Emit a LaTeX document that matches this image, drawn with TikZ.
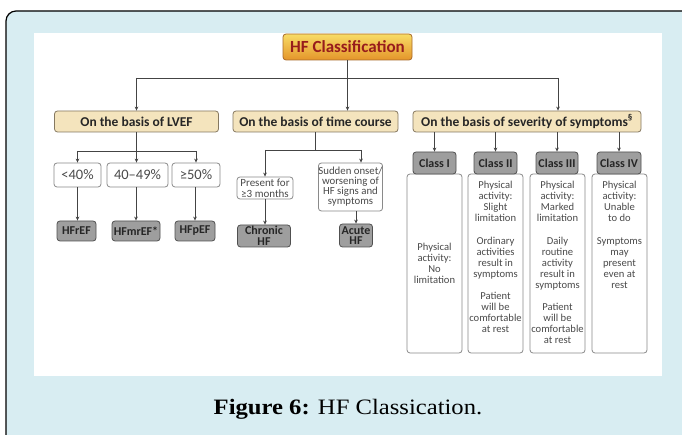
\documentclass[tikz,border=0pt]{standalone}
\usepackage{fontspec}
\setmainfont{Carlito}
\newfontfamily\capfont{Liberation Serif}[FakeStretch=1.12]
\usetikzlibrary{arrows.meta}
\definecolor{framebg}{HTML}{D8EDF2}
\definecolor{hftop}{HTML}{F8DC66}
\definecolor{hfbot}{HTML}{E4952A}
\definecolor{hfborder}{HTML}{A86A2A}
\definecolor{hftext}{HTML}{971C1C}
\definecolor{beige}{HTML}{F4E4BD}
\definecolor{beigeborder}{HTML}{857860}
\definecolor{greyfill}{HTML}{9E9E9E}
\definecolor{greyborder}{HTML}{505050}
\definecolor{wborder}{HTML}{8A8A8A}
\definecolor{lncol}{HTML}{444444}
\definecolor{txtgrey}{HTML}{4A4A4A}
\begin{document}
\begin{tikzpicture}[x=1pt,y=-1pt,
  hfbox/.style={draw=hfborder, line width=0.8pt, top color=hftop, bottom color=hfbot, rounded corners=3pt,
    minimum width=129pt, minimum height=26pt, inner sep=0pt, text=hftext,
    font=\fontsize{17}{17}\selectfont\bfseries},
  lvtwo/.style={draw=beigeborder, line width=0.8pt, fill=beige, rounded corners=3pt,
    minimum height=21pt, inner sep=0pt, text=black!85,
    font=\fontsize{13.5}{13.5}\selectfont\bfseries},
  wbox/.style={draw=wborder, line width=0.8pt, fill=white, rounded corners=3pt, inner sep=0pt,
    text=txtgrey},
  gbox/.style={draw=greyborder, line width=0.8pt, fill=greyfill, rounded corners=3pt, inner sep=0pt,
    text=black!85, font=\fontsize{12}{10.5}\selectfont\bfseries, align=center},
  desctext/.style={inner sep=0pt, text=txtgrey, align=center, font=\fontsize{10.6}{11}\selectfont},
  ln/.style={draw=lncol, line width=0.9pt},
  arr/.style={ln, -{Stealth[length=4pt,width=3.6pt]}}
]
\useasboundingbox (0,0) rectangle (682,435);
\begin{scope}
  \clip (0,0) rectangle (682,435);
  \draw[fill=framebg, line width=1.2pt, rounded corners=10pt] (6,11) rectangle (720,470);
\end{scope}
\fill[white] (34,33) rectangle (662,376);

% top
\node[hfbox] (hf) at (347.5,47) {HF Classification};
\node[lvtwo, minimum width=164pt] (lvef) at (136.5,121.5) {On the basis of LVEF};
\node[lvtwo, minimum width=165pt] (time) at (315.5,121.5) {On the basis of time course};
\node[lvtwo, minimum width=228pt] (sev) at (527,121.5) {On the basis of severity of symptoms\textsuperscript{\fontsize{9}{9}\selectfont §}};

\coordinate (busL) at (136.5,78);
\coordinate (busR) at (558,78);
\draw[ln] (busL) -- (busR);
\draw[arr] (hf.south) -- (hf.south |- time.north);
\draw[arr] (busL) -- (lvef.north);
\draw[arr] (busR) -- (busR |- sev.north);

% LVEF branch
\node[wbox, minimum width=47pt, minimum height=24pt, font=\fontsize{14.5}{14.5}\selectfont] (p1) at (77.5,175) {<40\%};
\node[wbox, minimum width=61pt, minimum height=24pt, font=\fontsize{14.5}{14.5}\selectfont] (p2) at (137.5,175) {40–49\%};
\node[wbox, minimum width=48pt, minimum height=24pt, font=\fontsize{14.5}{14.5}\selectfont] (p3) at (196,175) {≥50\%};
\node[gbox, minimum width=39pt, minimum height=20pt] (e1) at (76.5,231) {HFrEF};
\node[gbox, minimum width=48pt, minimum height=20pt] (e2) at (136,231) {HFmrEF*};
\node[gbox, minimum width=40pt, minimum height=20pt] (e3) at (195,231) {HFpEF};

\coordinate (lvJ) at (136.5,151);
\draw[ln] (lvef.south) -- (lvJ);
\draw[ln] (p1.north |- lvJ) -- (p3.north |- lvJ);
\draw[arr] (p1.north |- lvJ) -- (p1.north);
\draw[arr] (lvJ) -- (lvJ |- p2.north);
\draw[arr] (p3.north |- lvJ) -- (p3.north);
\draw[arr] (p1.south) -- (p1.south |- e1.north);
\draw[arr] (e2.north |- p2.south) -- (e2.north);
\draw[arr] (e3.north |- p3.south) -- (e3.north);

% time course branch
\node[wbox, minimum width=56pt, minimum height=22pt, align=center, font=\fontsize{11}{11}\selectfont] (pr) at (265,188) {Present for\\≥3 months};
\node[wbox, minimum width=63pt, minimum height=48pt, align=center, font=\fontsize{10.8}{10}\selectfont] (su) at (350.5,187) {Sudden onset/\\worsening of\\HF signs and\\symptoms};
\node[gbox, minimum width=53pt, minimum height=22pt] (ch) at (264,236) {Chronic\\HF};
\node[gbox, minimum width=33pt, minimum height=23pt] (ac) at (356,235.5) {Acute\\HF};

\coordinate (tJ) at (315.5,150);
\coordinate (tL) at (265,150);
\coordinate (tR) at (361,150);
\draw[ln] (time.south) -- (tJ);
\draw[ln] (tL) -- (tR);
\draw[arr] (tL) -- (tL |- pr.north);
\draw[arr] (tR) -- (tR |- su.north);
\draw[arr] (pr.south) -- (pr.south |- ch.north);
\draw[arr] (ac.north |- su.south) -- (ac.north);

% severity branch
\node[wbox, minimum width=55pt, minimum height=179pt] (d1) at (434.5,263.5) {};
\node[wbox, minimum width=55pt, minimum height=179pt] (d2) at (495.5,263.5) {};
\node[wbox, minimum width=55pt, minimum height=179pt] (d3) at (557.5,263.5) {};
\node[wbox, minimum width=55pt, minimum height=179pt] (d4) at (619.5,263.5) {};
\node[gbox, minimum width=43pt, minimum height=22pt] (c1) at (434.5,163) {Class I};
\node[gbox, minimum width=43pt, minimum height=22pt] (c2) at (495.5,163) {Class II};
\node[gbox, minimum width=42pt, minimum height=22pt] (c3) at (557,163) {Class III};
\node[gbox, minimum width=44pt, minimum height=22pt] (c4) at (619,163) {Class IV};
\foreach \c in {c1,c2,c3,c4} \draw[arr] (\c.north |- sev.south) -- (\c.north);

\node[desctext] (d1t) at (d1.center) {Physical\\activity:\\No\\limitation};
\node[desctext, anchor=north] (d2t) at (495.5,181) {Physical\\activity:\\Slight\\limitation\\[12pt]Ordinary\\activities\\result in\\symptoms\\[11pt]Patient\\will be\\comfortable\\at rest};
\node[desctext, anchor=north] (d3t) at (557.5,181) {Physical\\activity:\\Marked\\limitation\\[12pt]Daily\\routine\\activity\\result in\\symptoms\\[11pt]Patient\\will be\\comfortable\\at rest};
\node[desctext, anchor=north] (d4t) at (619.5,181) {Physical\\activity:\\Unable\\to do\\[12pt]Symptoms\\may\\present\\even at\\rest};

% caption
\node[font=\capfont\fontsize{22}{22}\selectfont, inner sep=0pt] (cap) at (348,409) {\textbf{Figure 6:} HF Classication.};
\end{tikzpicture}
\end{document}
